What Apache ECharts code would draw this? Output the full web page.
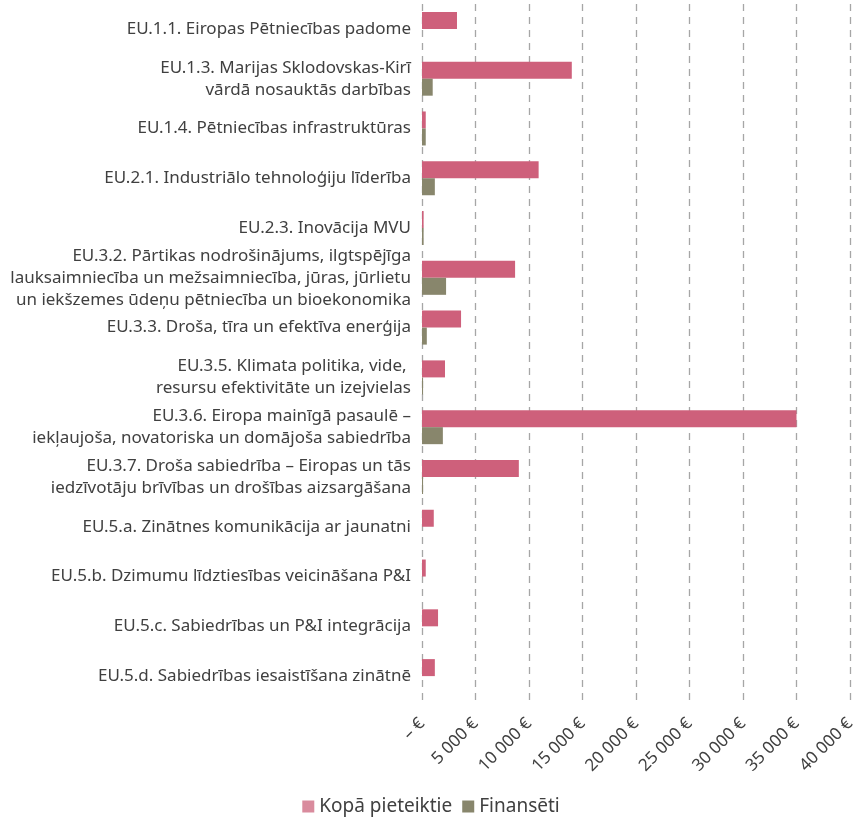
<!DOCTYPE html>
<html>
<head>
<meta charset="utf-8">
<script src="https://cdn.jsdelivr.net/npm/echarts@6/dist/echarts.min.js"></script>
<style>
  html, body { margin: 0; padding: 0; background: #fff; }
  #chart { width: 862px; height: 819px; }
</style>
</head>
<body>
<div id="chart"></div>
<script>
// kategorijas (no augšas uz leju)
var categories = [
    'EU.1.1. Eiropas Pētniecības padome',
    'EU.1.3. Marijas Sklodovskas-Kirī\nvārdā nosauktās darbības',
    'EU.1.4. Pētniecības infrastruktūras',
    'EU.2.1. Industriālo tehnoloģiju līderība',
    'EU.2.3. Inovācija MVU',
    'EU.3.2. Pārtikas nodrošinājums, ilgtspējīga\nlauksaimniecība un mežsaimniecība, jūras, jūrlietu\nun iekšzemes ūdeņu pētniecība un bioekonomika',
    'EU.3.3. Droša, tīra un efektīva enerģija',
    'EU.3.5. Klimata politika, vide, \nresursu efektivitāte un izejvielas',
    'EU.3.6. Eiropa mainīgā pasaulē –\niekļaujoša, novatoriska un domājoša sabiedrība',
    'EU.3.7. Droša sabiedrība – Eiropas un tās\niedzīvotāju brīvības un drošības aizsargāšana',
    'EU.5.a. Zinātnes komunikācija ar jaunatni',
    'EU.5.b. Dzimumu līdztiesības veicināšana P&I',
    'EU.5.c. Sabiedrības un P&I integrācija',
    'EU.5.d. Sabiedrības iesaistīšana zinātnē'
];

// Kopā pieteiktie
var pieteiktie = [3270, 14000, 350, 10900, 150, 8700, 3650, 2150, 35000, 9050, 1100, 350, 1500, 1200];
// Finansēti
var finanseti = [0, 1000, 350, 1200, 150, 2250, 450, 100, 1950, 100, 0, 0, 0, 0];

var xTicks = [0, 5000, 10000, 15000, 20000, 25000, 30000, 35000, 40000];

var font = '"Noto Sans", sans-serif';

var myChart = echarts.init(document.getElementById('chart'));

function eur(v) {
    if (v === 0) return '– €';
    return String(v).replace(/\B(?=(\d{3})+(?!\d))/g, ' ') + ' €';
}

option = {
    backgroundColor: '#fff',
    textStyle: { fontFamily: font },
    grid: { left: 422, right: 12, top: 4, bottom: 118, containLabel: false },
    legend: {
        top: 792,
        left: 'center',
        itemWidth: 12,
        itemHeight: 12,
        itemGap: 10,
        icon: 'rect',
        textStyle: { fontSize: 19, color: '#404040', fontFamily: font },
        data: [
            { name: 'Kopā pieteiktie', itemStyle: { color: '#d98b9d' } },
            { name: 'Finansēti' }
        ]
    },
    xAxis: {
        type: 'value',
        min: xTicks[0],
        max: xTicks[xTicks.length - 1],
        interval: 5000,
        axisLine: { show: false },
        axisTick: { show: false },
        splitLine: {
            show: true,
            lineStyle: { color: '#a6a6a6', type: [7, 6], width: 1.3 }
        },
        axisLabel: {
            rotate: 45,
            margin: 20,
            fontSize: 17,
            color: '#404040',
            formatter: eur
        }
    },
    yAxis: {
        type: 'category',
        inverse: true,
        data: categories,
        axisLine: { show: false },
        axisTick: { show: false },
        axisLabel: {
            margin: 11,
            fontSize: 17,
            lineHeight: 22,
            color: '#404040',
            align: 'right'
        }
    },
    series: [
        {
            name: 'Kopā pieteiktie',
            type: 'bar',
            data: pieteiktie,
            barWidth: 17,
            barGap: '0%',
            itemStyle: { color: '#ce607b' }
        },
        {
            name: 'Finansēti',
            type: 'bar',
            data: finanseti,
            barWidth: 17,
            barGap: '0%',
            itemStyle: { color: '#88866c' }
        }
    ]
};

myChart.setOption(option);
</script>
</body>
</html>
